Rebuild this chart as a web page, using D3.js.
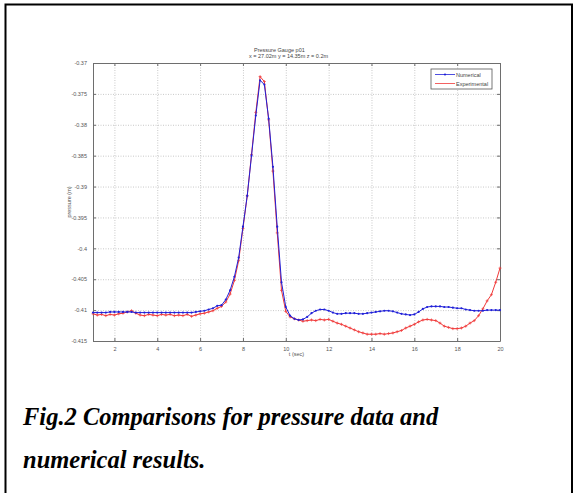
<!DOCTYPE html>
<html>
<head>
<meta charset="utf-8">
<script src="https://cdn.jsdelivr.net/npm/d3@7"></script>
<style>
  body { margin: 0; background: #fff; }
  svg { display: block; }
  .tick text { fill: #555; font-family: Arial, "Liberation Sans", sans-serif; }
</style>
</head>
<body>
<svg id="chart"></svg>
<script>
// sample times (sec)
const times = [1.0,1.2,1.4,1.6,1.8,2.0,2.2,2.4,2.6,2.8,3.0,3.2,3.4,3.6,3.8,4.0,4.2,4.4,4.6,4.8,
  5.0,5.2,5.4,5.6,5.8,6.0,6.2,6.4,6.6,6.8,7.0,7.2,7.4,7.6,7.8,8.0,8.2,8.4,8.6,8.8,
  9.0,9.2,9.4,9.6,9.8,10.0,10.2,10.4,10.6,10.8,11.0,11.2,11.4,11.6,11.8,12.0,12.2,12.4,12.6,12.8,
  13.0,13.2,13.4,13.6,13.8,14.0,14.2,14.4,14.6,14.8,15.0,15.2,15.4,15.6,15.8,16.0,16.2,16.4,16.6,16.8,
  17.0,17.2,17.4,17.6,17.8,18.0,18.2,18.4,18.6,18.8,19.0,19.2,19.4,19.6,19.8,20.0];

// numerical result (m)
const numerical = [-0.4104,-0.4104,-0.4104,-0.4104,-0.4103,-0.4103,-0.4103,-0.4103,-0.4103,-0.4103,
  -0.4104,-0.4104,-0.4104,-0.4104,-0.4104,-0.4104,-0.4104,-0.4104,-0.4104,-0.4104,
  -0.4104,-0.4104,-0.4104,-0.4104,-0.4103,-0.4102,-0.4101,-0.4099,-0.4097,-0.4093,
  -0.4092,-0.4083,-0.4068,-0.4046,-0.4015,-0.3965,-0.3915,-0.3850,-0.3785,-0.3728,
  -0.3735,-0.3790,-0.3868,-0.3965,-0.4055,-0.4095,-0.4109,-0.4114,-0.4116,-0.4115,
  -0.4111,-0.4105,-0.4101,-0.4099,-0.4099,-0.4101,-0.4104,-0.4106,-0.4106,-0.4105,
  -0.4105,-0.4105,-0.4106,-0.4106,-0.4105,-0.4104,-0.4103,-0.4102,-0.4101,-0.4101,
  -0.4102,-0.4104,-0.4106,-0.4107,-0.4108,-0.4107,-0.4103,-0.4098,-0.4095,-0.4094,
  -0.4094,-0.4094,-0.4095,-0.4095,-0.4096,-0.4097,-0.4097,-0.4099,-0.4100,-0.4101,
  -0.4101,-0.4101,-0.4100,-0.4100,-0.4100,-0.4100];

// experimental data (m)
const experimental = [-0.4106,-0.4108,-0.4107,-0.4109,-0.4107,-0.4108,-0.4106,-0.4105,-0.4103,-0.4101,
  -0.4105,-0.4108,-0.4109,-0.4107,-0.4108,-0.4109,-0.4107,-0.4108,-0.4107,-0.4109,
  -0.4108,-0.4109,-0.4107,-0.4110,-0.4108,-0.4106,-0.4105,-0.4103,-0.4101,-0.4097,
  -0.4094,-0.4087,-0.4074,-0.4052,-0.4020,-0.3968,-0.3915,-0.3848,-0.3780,-0.3722,
  -0.3730,-0.3792,-0.3875,-0.3975,-0.4068,-0.4102,-0.4111,-0.4114,-0.4116,-0.4118,
  -0.4117,-0.4116,-0.4117,-0.4115,-0.4116,-0.4115,-0.4118,-0.4121,-0.4123,-0.4126,
  -0.4129,-0.4132,-0.4135,-0.4137,-0.4139,-0.4139,-0.4139,-0.4138,-0.4139,-0.4138,
  -0.4137,-0.4135,-0.4133,-0.4129,-0.4126,-0.4123,-0.4119,-0.4116,-0.4115,-0.4116,
  -0.4117,-0.4121,-0.4126,-0.4128,-0.4130,-0.4130,-0.4129,-0.4126,-0.4121,-0.4117,
  -0.4109,-0.4098,-0.4085,-0.4075,-0.4055,-0.4032];

const xTicks = [2,4,6,8,10,12,14,16,18,20];
const yTicks = [-0.37,-0.375,-0.38,-0.385,-0.39,-0.395,-0.4,-0.405,-0.41,-0.415];
const seriesNames = ["Numerical", "Experimental"];
const titleLines = ["Pressure Gauge p01", "x = 27.02m y = 14.35m z = 0.2m"];
const captionLines = ["Fig.2 Comparisons for pressure data and", "numerical results."];

const W = 574, H = 493;
const margin = {top: 63, left: 93, right: 74, bottom: 152};
const width = W - margin.left - margin.right;
const height = H - margin.top - margin.bottom;

const svg = d3.select("#chart").attr("width", W).attr("height", H);

// page frame (left, top, right edges)
svg.append("path")
  .attr("d", `M5.5,${H} V4.5 H572 V${H}`)
  .attr("fill", "none").attr("stroke", "#000").attr("stroke-width", 2);

const g = svg.append("g").attr("transform", `translate(${margin.left},${margin.top})`);

const x = d3.scaleLinear().domain([1, 20]).range([0, width]);
const y = d3.scaleLinear().domain([-0.415, -0.37]).range([height, 0]);

// dotted grid
g.append("g").attr("class", "grid")
  .attr("transform", `translate(0,${height})`)
  .call(d3.axisBottom(x).tickValues(xTicks).tickSize(-height).tickFormat(""))
  .call(s => s.select(".domain").remove())
  .call(s => s.selectAll("line").attr("stroke", "#c8c8c8").attr("stroke-dasharray", "1,1.5"));
g.append("g").attr("class", "grid")
  .call(d3.axisLeft(y).tickValues(yTicks).tickSize(-width).tickFormat(""))
  .call(s => s.select(".domain").remove())
  .call(s => s.selectAll("line").attr("stroke", "#c8c8c8").attr("stroke-dasharray", "1,1.5"));

// axes with inward ticks on all four sides
const axisColor = "#6e6e6e";
function styleAxis(s) {
  s.select(".domain").attr("stroke", axisColor);
  s.selectAll(".tick line").attr("stroke", axisColor);
}
g.append("g").attr("transform", `translate(0,${height})`)
  .call(d3.axisBottom(x).tickValues(xTicks).tickSizeInner(-3).tickSizeOuter(0).tickPadding(6).tickFormat(d3.format("d")))
  .call(styleAxis)
  .call(s => s.selectAll("text").attr("font-size", 5.5));
g.append("g")
  .call(d3.axisTop(x).tickValues(xTicks).tickSizeInner(-3).tickSizeOuter(0).tickFormat(""))
  .call(styleAxis);
g.append("g")
  .call(d3.axisLeft(y).tickValues(yTicks).tickSizeInner(-3).tickSizeOuter(0).tickPadding(6).tickFormat(d => String(+d.toFixed(3))))
  .call(styleAxis)
  .call(s => s.selectAll("text").attr("font-size", 5.5));
g.append("g").attr("transform", `translate(${width},0)`)
  .call(d3.axisRight(y).tickValues(yTicks).tickSizeInner(-3).tickSizeOuter(0).tickFormat(""))
  .call(styleAxis);

// axis labels
g.append("text")
  .attr("x", width / 2).attr("y", height + 15)
  .attr("text-anchor", "middle")
  .attr("font-family", "Arial, 'Liberation Sans', sans-serif").attr("font-size", 5.5).attr("fill", "#555")
  .text("t (sec)");
g.append("text")
  .attr("transform", `translate(-22,${height / 2}) rotate(-90)`)
  .attr("text-anchor", "middle")
  .attr("font-family", "Arial, 'Liberation Sans', sans-serif").attr("font-size", 5.5).attr("fill", "#555")
  .text("pressure (m)");

// title
g.selectAll(".title").data(titleLines).join("text")
  .attr("class", "title")
  .attr("x", (d, i) => i === 0 ? 161 : 156)
  .attr("y", (d, i) => -11 + i * 6)
  .attr("font-family", "Arial, 'Liberation Sans', sans-serif").attr("font-size", 5.5).attr("fill", "#444")
  .text(d => d);

// series
const numData = times.map((t, i) => ({t, v: numerical[i]}));
const expData = times.map((t, i) => ({t, v: experimental[i]}));
const line = d3.line().x(d => x(d.t)).y(d => y(d.v));

const blue = "#2020d8", red = "#f03838";

g.append("path").datum(expData)
  .attr("fill", "none").attr("stroke", red).attr("stroke-width", 1).attr("d", line);
g.append("g").selectAll("path").data(expData).join("path")
  .attr("d", d => `M${x(d.t) - 1.5},${y(d.v)}h3M${x(d.t)},${y(d.v) - 1.5}v3`)
  .attr("stroke", red).attr("stroke-width", 0.7);

g.append("path").datum(numData)
  .attr("fill", "none").attr("stroke", blue).attr("stroke-width", 1).attr("d", line);
g.append("g").selectAll("circle").data(numData).join("circle")
  .attr("cx", d => x(d.t)).attr("cy", d => y(d.v)).attr("r", 1.1)
  .attr("fill", blue);

// legend
const lg = g.append("g").attr("transform", `translate(${width - 69},6)`);
lg.append("rect").attr("width", 61).attr("height", 20)
  .attr("fill", "#fff").attr("stroke", "#555").attr("stroke-width", 0.8);
const colors = [blue, red];
seriesNames.forEach((name, i) => {
  const yy = 5.5 + i * 9;
  lg.append("line").attr("x1", 4).attr("x2", 24).attr("y1", yy).attr("y2", yy)
    .attr("stroke", colors[i]).attr("stroke-width", 0.8);
  if (i === 0) lg.append("circle").attr("cx", 14).attr("cy", yy).attr("r", 1.1).attr("fill", blue);
  lg.append("text").attr("x", 25).attr("y", yy + 2)
    .attr("font-family", "Arial, 'Liberation Sans', sans-serif").attr("font-size", 5.5).attr("fill", "#444")
    .text(name);
});

// caption
svg.selectAll(".caption").data(captionLines).join("text")
  .attr("class", "caption")
  .attr("x", 23)
  .attr("y", (d, i) => 425 + i * 43)
  .attr("font-family", "'Liberation Serif', 'Times New Roman', serif")
  .attr("font-weight", "bold").attr("font-style", "italic")
  .attr("font-size", 24.5).attr("fill", "#000")
  .text(d => d);
</script>
</body>
</html>
